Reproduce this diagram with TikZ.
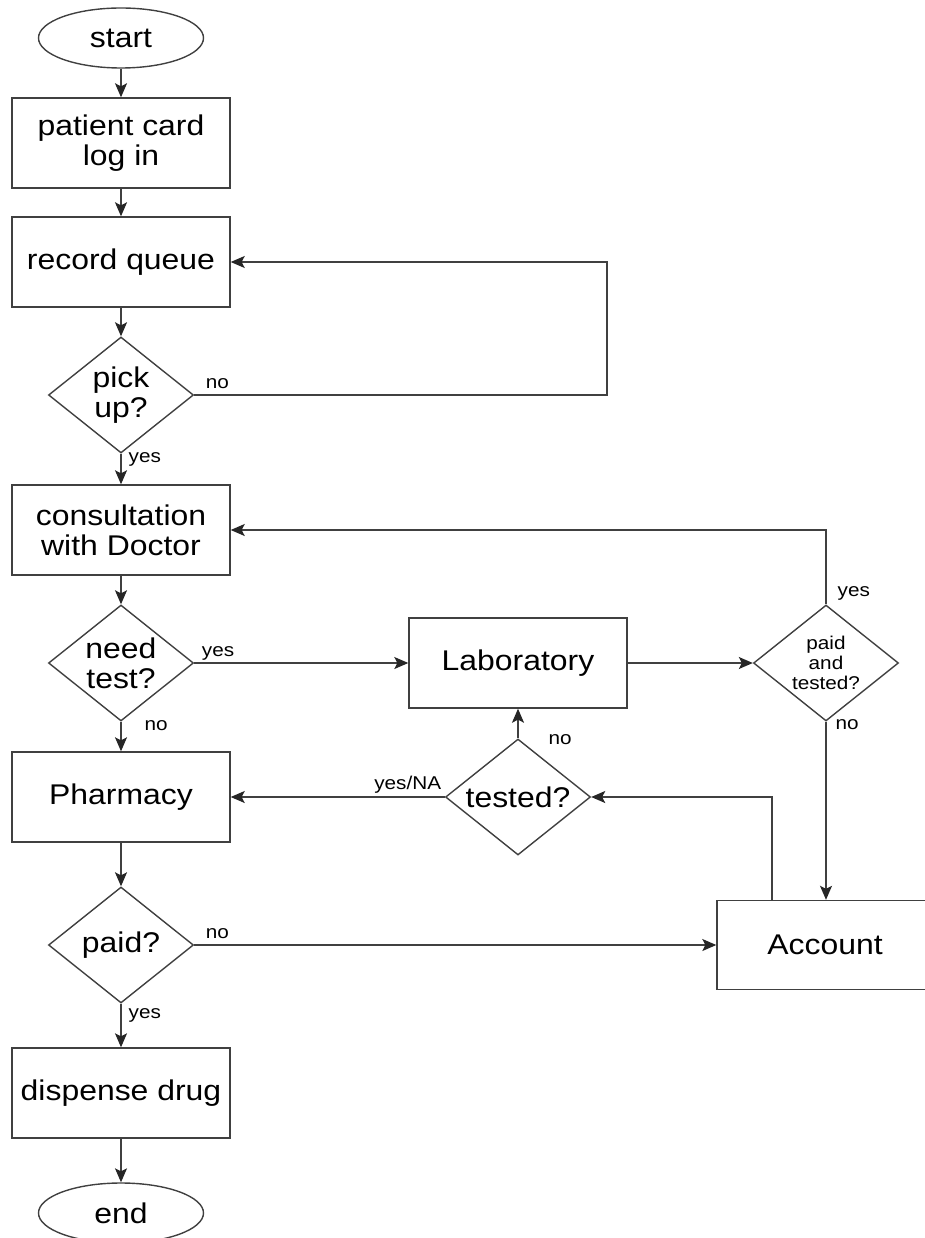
\documentclass[tikz,border=0pt]{standalone}
\usepackage{fontspec}
\setmainfont{Liberation Sans}[FakeStretch=1.12]
\usetikzlibrary{shapes.geometric,arrows.meta}

\begin{document}
\begin{tikzpicture}[x=1pt,y=-1pt,
    >={Stealth[length=14pt,width=12pt,inset=3pt,color=black!85]},
    box/.style={rectangle,draw=black!75,line width=1.4pt,minimum width=218pt,minimum height=90pt,inner sep=0pt,align=center,font=\fontsize{28.5}{30}\selectfont},
    term/.style={ellipse,draw=black!75,line width=1.4pt,minimum width=165pt,minimum height=60pt,font=\fontsize{28.5}{30}\selectfont},
    decision/.style={diamond,aspect=1.25,draw=black!75,line width=1.4pt,minimum width=145pt,minimum height=116pt,inner sep=-12pt,align=center,font=\fontsize{28.5}{30}\selectfont},
    flow/.style={->,draw=black!75,line width=1.4pt},
    lbl/.style={inner sep=0pt,font=\fontsize{18.5}{20}\selectfont}]
            \useasboundingbox (0,0) rectangle (925,1238);
            \clip (0,0) rectangle (925,1238);
            \node[term] at (121,38) (start) {start};
            \node[box] at (121,143) (card) {patient card\\log in};
            \node[box] at (121,262) (queue) {record queue};
            \node[decision] at (121,395) (pick) {pick\\up?};
            \node[box] at (121,530) (consult) {consultation\\with Doctor};
            \node[decision] at (121,663) (needtest) {need\\test?};
            \node[box] at (121,797) (pharmacy) {Pharmacy};
            \node[decision] at (121,945) (paid) {paid?};
            \node[box] at (121,1093) (dispense) {dispense drug};
            \node[term] at (121,1213) (end) {end};
            \node[box] at (518,663) (lab) {Laboratory};
            \node[decision,font=\fontsize{18.5}{20}\selectfont] at (826,663) (paidtested) {paid\\and\\tested?};
            \node[decision] at (518,797) (tested) {tested?};
            \node[box,minimum width=216pt,minimum height=89pt] at (825,945) (account) {Account};
            \coordinate (queueturn) at (607,395);
            \draw[flow] (start) to (card);
            \draw[flow] (card) to (queue);
            \draw[flow] (queue) to (pick);
            \draw[flow] (pick.east) -- node[lbl,pos=0,anchor=base west,xshift=11pt,yshift=7pt] {no} (queueturn) |- (queue.east);
            \draw[flow] (pick) to node[lbl,pos=0,anchor=base west,xshift=7pt,yshift=-9pt] {yes} (consult);
            \draw[flow] (consult) to (needtest);
            \draw[flow] (needtest) to node[lbl,pos=0,anchor=base west,xshift=7pt,yshift=7pt] {yes} (lab);
            \draw[flow] (needtest) to node[lbl,pos=0,anchor=base west,xshift=23pt,yshift=-9pt] {no} (pharmacy);
            \draw[flow] (lab) to (paidtested);
            \draw[flow] (paidtested.north) |- node[lbl,pos=0,anchor=base west,xshift=11pt,yshift=8pt] {yes} (consult.east);
            \draw[flow] (paidtested.south) -- node[lbl,pos=0,anchor=base west,xshift=9pt,yshift=-8pt] {no} (paidtested.south |- account.north);
            \draw[flow] ([xshift=-53pt]account.north) |- (tested.east);
            \draw[flow] (tested) to node[lbl,pos=0,anchor=base west,xshift=30pt,yshift=-6pt] {no} (lab);
            \draw[flow] (tested) to node[lbl,pos=0,anchor=base east,xshift=-3pt,yshift=8pt] {yes/NA} (pharmacy);
            \draw[flow] (pharmacy) to (paid);
            \draw[flow] (paid) to node[lbl,pos=0,anchor=base west,xshift=11pt,yshift=7pt] {no} (account);
            \draw[flow] (paid) to node[lbl,pos=0,anchor=base west,xshift=7pt,yshift=-15pt] {yes} (dispense);
            \draw[flow] (dispense) to (end);
        \end{tikzpicture}
\end{document}
